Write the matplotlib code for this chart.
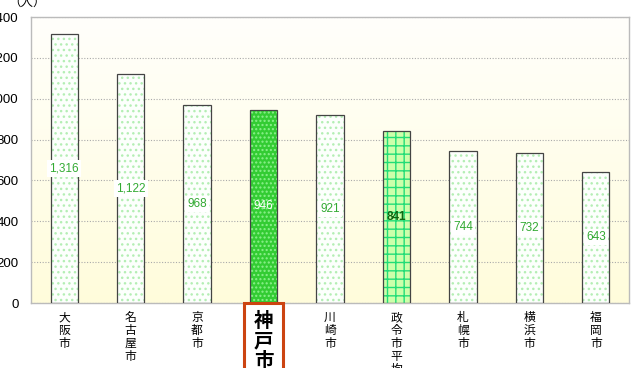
import numpy as np
import matplotlib.pyplot as plt
from matplotlib.patches import Rectangle

plt.rcParams['font.family'] = ['Liberation Sans', 'Noto Sans CJK JP', 'DejaVu Sans']

cities = ['大阪市', '名古屋市', '京都市', '神戸市', '川崎市', '政令市平均', '札幌市', '横浜市', '福岡市']
values = [1316, 1122, 968, 946, 921, 841, 744, 732, 643]
labels = ['1,316', '1,122', '968', '946', '921', '841', '744', '732', '643']
kobe = '神戸市'
avg = '政令市平均'

fig = plt.figure(figsize=(6.36, 3.68), dpi=100)
ax = fig.add_axes([31/636, 1-303/368, 598/636, 286/368])

x = np.arange(len(cities))
w = 0.41

# background gradient (light yellow)
grad = np.linspace(0, 1, 100).reshape(-1, 1)
top = np.array([1.0, 1.0, 0.985])
bot = np.array([1.0, 0.99, 0.86])
img = top + (bot - top) * grad[:, :, None]
ax.imshow(img, extent=[0, 1, 0, 1], transform=ax.transAxes, aspect='auto', zorder=0)

ax.set_xlim(-0.5, len(cities) - 0.5)
ax.set_ylim(0, 1400)
ax.set_yticks(np.arange(0, 1401, 200))
ax.yaxis.grid(True, color='#aaaaaa', linestyle=(0, (1, 1.5)), linewidth=0.8, zorder=1)
ax.set_axisbelow(True)

for i, (c, v) in enumerate(zip(cities, values)):
    if c == kobe:
        face, hc, hatch = '#33cc33', '#8cf08c', '....'
    elif c == avg:
        face, hc, hatch = '#ccffaa', '#22dd77', '++'
    else:
        face, hc, hatch = '#fcfffc', '#b4eeb4', '...'
    ax.bar(x[i], v, width=w, color=face, edgecolor=hc, hatch=hatch, linewidth=0, zorder=2)
    ax.bar(x[i], v, width=w, color='none', edgecolor='#444444', linewidth=0.9, zorder=3)

    if c == kobe:
        ax.text(x[i], v / 2, labels[i], ha='center', va='center', color='white', fontsize=8.5, zorder=4)
    elif c == avg:
        ax.text(x[i], v / 2, labels[i], ha='center', va='center', color='#116611', fontsize=8.5,
                fontweight='bold', zorder=4)
    else:
        ax.text(x[i], v / 2, labels[i], ha='center', va='center', color='#33aa33', fontsize=8.5, zorder=4,
                bbox=dict(facecolor='white', edgecolor='none', pad=1.5))

for s in ax.spines.values():
    s.set_color('#bbbbbb')
    s.set_linewidth(1)

ax.tick_params(axis='y', length=0, labelsize=9.5, pad=9)
ax.tick_params(axis='x', length=0)
ax.set_xticks(x)
ax.set_xticklabels([])

# vertical category labels
for i, c in enumerate(cities):
    if c == kobe:
        ax.text(x[i], -45, '\n'.join(c), ha='center', va='top', fontsize=14, fontweight='bold',
                linespacing=1.05, family=['Noto Sans CJK JP'])
    else:
        ax.text(x[i], -40, '\n'.join(c), ha='center', va='top', fontsize=8.5,
                linespacing=1.0, family=['Noto Sans CJK JP'])

# box around Kobe label
ki = cities.index(kobe)
box = Rectangle((x[ki] - 0.3, -400), 0.6, 400, fill=False, edgecolor='#cc4411', linewidth=2.2,
                clip_on=False, zorder=5)
ax.add_patch(box)

fig.text(8/636, 1 + 4/368, '（人）', ha='left', va='top', fontsize=9, family=['Noto Sans CJK JP'])

fig.savefig('out.png', dpi=100)
